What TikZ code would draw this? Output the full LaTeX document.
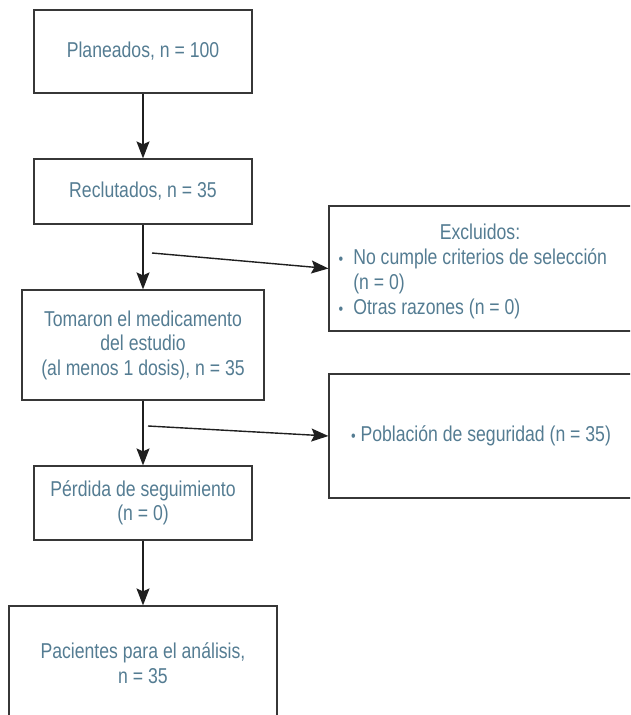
\documentclass[tikz,border=0pt]{standalone}
\usepackage{fontspec}
\setmainfont[FakeStretch=0.82]{Liberation Sans}
\usetikzlibrary{arrows.meta}
\definecolor{txt}{RGB}{84,124,146}
\definecolor{ln}{RGB}{55,55,55}
\newcommand{\smallbul}{{\fontsize{16}{16}\selectfont\textbullet}}
\begin{document}
\begin{tikzpicture}[x=1pt,y=-1pt,
  box/.style={draw=ln, line width=1.2pt, rectangle, inner sep=0pt, align=center, text=txt, font=\fontsize{21.5}{24.5}\selectfont},
  lbl/.style={inner sep=0pt, text=txt, font=\fontsize{21.5}{25}\selectfont},
  arr/.style={draw=black!88, line width=1.4pt, -{Stealth[length=17pt,width=13pt,inset=3pt]}},
]
\useasboundingbox (0,0) rectangle (630,715);
\clip (0,0) rectangle (630,715);
\node[box, minimum width=218, minimum height=83] (plan) at (143,51.5) {Planeados, n = 100};
\node[box, minimum width=218, minimum height=65] (recl) at (143,191.5) {Reclutados, n = 35};
\node[box, minimum width=242, minimum height=110] (tom) at (143,345) {Tomaron el medicamento\\del estudio\\(al menos 1 dosis), n = 35};
\node[box, minimum width=218, minimum height=74] (perd) at (143,503) {Pérdida de seguimiento\\(n = 0)};
\node[box, minimum width=268, minimum height=114] (pac) at (143,663) {Pacientes para el análisis,\\n = 35};
\node[box, minimum width=304, minimum height=125] (exc) at (481,268.5) {};
\node[lbl, anchor=base] (exctitle) at (480,239) {Excluidos:};
\node[lbl, anchor=base west] (exclist) at (338.5,264) {\begin{tabular}[t]{@{}l@{\hspace{10pt}}l@{}}\smallbul & No cumple criterios de selección\\ & (n = 0)\\ \smallbul & Otras razones (n = 0)\end{tabular}};
\node[box, minimum width=304, minimum height=124] (pob) at (481,436) {\smallbul\ Población de seguridad (n = 35)};
\coordinate (s1) at (152,253);
\coordinate (s2) at (148,426);
\draw[arr] (plan) -- (recl);
\draw[arr] (recl) -- (tom);
\draw[arr] (tom) -- (perd);
\draw[arr] (perd) -- (pac);
\draw[arr] (s1) -- (exc.west);
\draw[arr] (s2) -- (pob.west);
\end{tikzpicture}
\end{document}
